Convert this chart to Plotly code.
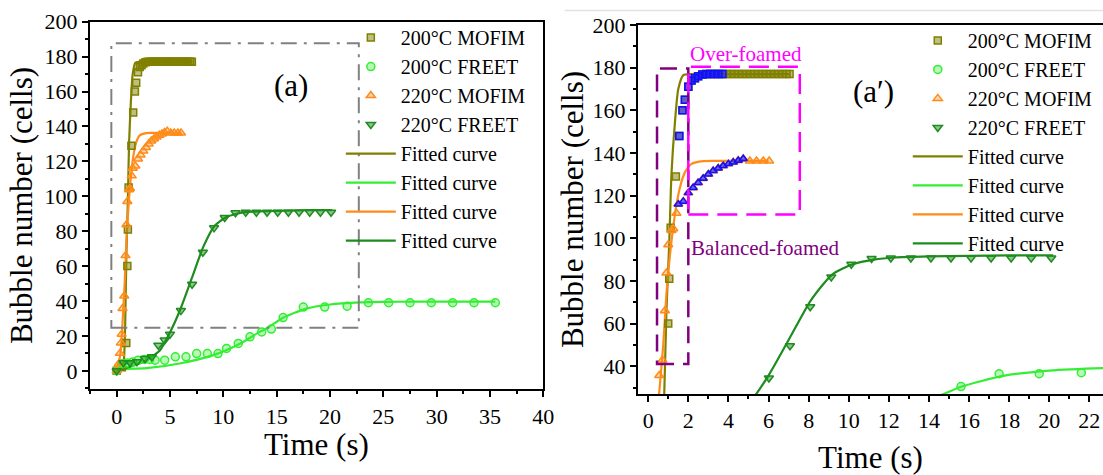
import plotly.graph_objects as go

# ---------------- data ----------------
# 200°C MOFIM (squares)
t_200M = [0, 0.5, 0.9, 1.0, 1.05, 1.12, 1.38, 1.55, 1.71, 1.83, 2.0, 2.16, 2.33, 2.49, 2.7, 2.9,
          3.1, 3.3, 3.5, 3.7, 3.9, 4.1, 4.3, 4.5, 4.7, 4.9, 5.1, 5.3, 5.5, 5.7, 5.9, 6.1, 6.3,
          6.5, 6.7, 6.9, 7.05]
y_200M = [0, 2, 16, 60, 81, 105, 129, 148, 160, 165, 171, 174, 175, 176, 176.8, 177,
          177, 177, 177, 177, 177, 177, 177, 177, 177, 177, 177, 177, 177, 177, 177, 177, 177,
          177, 177, 177, 177]
# 200°C FREET (circles)
t_200F = [0, 0.5, 1, 1.5, 2, 2.6, 3.1, 3.6, 4.5, 5.5, 6.5, 7.5, 8.5, 9.5, 10.3, 11.4, 12.5,
          13.6, 14.5, 15.6, 17.5, 19.5, 21.6, 23.6, 25.5, 27.5, 29.5, 31.5, 33.5, 35.5]
y_200F = [0, 4, 4.5, 5, 6, 6.5, 6.5, 6.1, 6.1, 8, 8, 9.9, 9.9, 9.9, 12.8, 15.7, 19.5,
          22.3, 23.9, 30.5, 36.5, 36.5, 37, 39, 39, 39, 39, 39, 39, 39]
# 220°C MOFIM (up triangles)
t_220M = [0, 0.2, 0.3, 0.4, 0.47, 0.55, 0.71, 0.83, 0.91, 1.0, 1.16, 1.25, 1.41, 1.5, 1.75,
          2.0, 2.24, 2.49, 2.74, 3.0, 3.24, 3.49, 3.74, 4.0, 4.24, 4.49, 4.74, 5.07, 5.4,
          5.74, 6.03]
y_220M = [0, 4, 10, 16, 21, 35.7, 42.9, 66, 83.7, 97, 103.7, 104.5, 111.7, 116, 117.3,
          121.3, 123.7, 126, 128, 130, 131.7, 132.8, 134, 134.9, 135.7, 136.5, 137.3, 136.2,
          136.2, 136.2, 136.2]
# 220°C FREET (down triangles)
t_220F = [0, 0.63, 1.25, 1.9, 2.66, 3.3, 3.9, 4.5, 5.0, 6.02, 7.07, 8.08, 9.13, 10.13, 11.14,
          12.1, 13.1, 14.1, 15.1, 16.1, 17.1, 18.1, 19.1, 20.1]
y_220F = [0, 4.6, 4.6, 5.2, 7, 8, 14.7, 17.6, 21, 34.5, 49.6, 67.9, 81.9, 87.8, 90.5,
          90.8, 90.8, 90.8, 90.8, 90.8, 90.8, 90.8, 90.8, 90.8]

# fitted curves
fit_t_200M = [0, 0.4, 0.6, 0.7, 0.8, 0.91, 1.05, 1.16, 1.33, 1.5, 1.75, 2.1, 2.5, 3, 4, 5, 6, 7.05]
fit_y_200M = [0, 0.3, 2, 8, 27, 66, 98, 130, 154, 170, 176.5, 177, 177, 177, 177, 177, 177, 177]
fit_t_200F = [0, 2.8, 5.9, 9.06, 11.6, 13.4, 14.1, 15.6, 17.7, 20, 22.8, 25, 28, 31, 35.5]
fit_y_200F = [1, 1.5, 4.2, 9, 15.7, 22.3, 24.4, 30.4, 35.5, 38, 39.2, 39.5, 39.6, 39.6, 39.6]
fit_t_220M = [0, 0.2, 0.35, 0.45, 0.55, 0.75, 0.91, 1.08, 1.33, 1.58, 1.83, 2.16, 2.74, 3.5, 4.5, 6.0]
fit_y_220M = [2, 5, 10, 17, 27.7, 50, 74, 91.7, 111, 123.7, 130.9, 134.9, 136.2, 136.3, 136.3, 136.3]
fit_t_220F = [0, 1.25, 2.8, 4.06, 5.0, 6.02, 7.07, 8.12, 9.17, 10.2, 11.26, 12.3, 14, 16, 18, 20.2]
fit_y_220F = [0, 2.3, 6, 11.8, 22, 36, 53.5, 71, 83, 87.8, 90, 91, 91.5, 91.8, 92, 92]

# over-foamed (blue) windows of the MOFIM data in panel (a')
blue_win_200M = (1.5, 3.75)
blue_win_220M = (1.5, 4.8)

# labels
series_names = ["200°C MOFIM", "200°C FREET", "220°C MOFIM", "220°C FREET"]
fit_name = "Fitted curve"

# ---------------- styles ----------------
C_OLIVE = "#808000"
C_LGREEN = "#33EE33"
C_ORANGE = "#FF8C1A"
C_DGREEN = "#1E8C1E"
C_BLUE = "#1010FF"
FONT = "Liberation Serif"

mk = {
    "200M": dict(symbol="square", size=7, color="rgba(128,128,0,0.5)", line=dict(color=C_OLIVE, width=1.5)),
    "200F": dict(symbol="circle", size=8, color="rgba(51,238,51,0.35)", line=dict(color=C_LGREEN, width=1.5)),
    "220M": dict(symbol="triangle-up", size=8, color="rgba(255,140,26,0.35)", line=dict(color=C_ORANGE, width=1.5)),
    "220F": dict(symbol="triangle-down", size=8, color="rgba(30,140,30,0.5)", line=dict(color=C_DGREEN, width=1.5)),
}

fig = go.Figure()

data_sets = [
    ("200M", t_200M, y_200M, series_names[0]),
    ("200F", t_200F, y_200F, series_names[1]),
    ("220M", t_220M, y_220M, series_names[2]),
    ("220F", t_220F, y_220F, series_names[3]),
]
fits = [
    (fit_t_200M, fit_y_200M, C_OLIVE),
    (fit_t_200F, fit_y_200F, C_LGREEN),
    (fit_t_220M, fit_y_220M, C_ORANGE),
    (fit_t_220F, fit_y_220F, C_DGREEN),
]

for panel, (xa, ya, lg) in enumerate([("x", "y", "legend"), ("x2", "y2", "legend2")]):
    for i, (ft, fy, col) in enumerate(fits):
        fig.add_trace(go.Scatter(x=ft, y=fy, mode="lines", name=fit_name,
                                 line=dict(color=col, width=2.2, shape="spline", smoothing=0.6),
                                 xaxis=xa, yaxis=ya, legend=lg, legendrank=10 + i))
    for i, (key, tt, yy, nm) in enumerate(data_sets):
        fig.add_trace(go.Scatter(x=tt, y=yy, mode="markers", name=nm, marker=mk[key],
                                 xaxis=xa, yaxis=ya, legend=lg, legendrank=i))
    if panel == 1:
        for key, tt, yy, win, sym in [("200M", t_200M, y_200M, blue_win_200M, "square"),
                                      ("220M", t_220M, y_220M, blue_win_220M, "triangle-up")]:
            bx = [a for a, b in zip(tt, yy) if win[0] <= a <= win[1]]
            by = [b for a, b in zip(tt, yy) if win[0] <= a <= win[1]]
            fig.add_trace(go.Scatter(x=bx, y=by, mode="markers", showlegend=False,
                                     marker=dict(symbol=sym, size=7, color="rgba(16,16,255,0.55)",
                                                 line=dict(color=C_BLUE, width=1.5)),
                                     xaxis=xa, yaxis=ya))

axis_common = dict(showline=True, linewidth=2, linecolor="black", showgrid=False, zeroline=False,
                   ticks="outside", ticklen=6, tickwidth=2, tickcolor="black", automargin=False,
                   tickfont=dict(family=FONT, size=22, color="black"))

fig.update_layout(
    width=1103, height=475,
    margin=dict(l=0, r=0, t=0, b=0, autoexpand=False),
    paper_bgcolor="white", plot_bgcolor="white",
    font=dict(family=FONT, color="black"),
    xaxis=dict(domain=[0.0816, 0.4926], range=[-2.5, 40], dtick=5, mirror=True,
               minor=dict(dtick=2.5, ticklen=3, tickwidth=2, tickcolor="black", ticks="outside"),
               anchor="y", **axis_common),
    yaxis=dict(domain=[0.1804, 0.9543], range=[-10.6, 200], dtick=20, mirror=True,
               minor=dict(dtick=10, ticklen=3, tickwidth=2, tickcolor="black", ticks="outside"),
               title=dict(text="Bubble number (cells)", font=dict(size=31, family=FONT), standoff=3),
               anchor="x", **axis_common),
    xaxis2=dict(domain=[0.5784, 1.0], range=[-0.51, 22.68], dtick=2, mirror=True,
                minor=dict(dtick=1, ticklen=3, tickwidth=2, tickcolor="black", ticks="outside"),
                title=dict(text="Time (s)", font=dict(size=31, family=FONT), standoff=15),
                anchor="y2", **axis_common),
    yaxis2=dict(domain=[0.1705, 0.9474], range=[27, 200], tick0=40, dtick=20, mirror=False,
                minor=dict(dtick=10, ticklen=3, tickwidth=2, tickcolor="black", ticks="outside"),
                title=dict(text="Bubble number (cells)", font=dict(size=31, family=FONT), standoff=0),
                anchor="x2", **axis_common),
    legend=dict(x=0.309, y=0.962, xanchor="left", yanchor="top", bgcolor="rgba(0,0,0,0)",
                font=dict(family=FONT, size=20), tracegroupgap=0, itemwidth=50,
                traceorder="normal"),
    legend2=dict(x=0.823, y=0.956, xanchor="left", yanchor="top", bgcolor="rgba(0,0,0,0)",
                 font=dict(family=FONT, size=20), tracegroupgap=0, itemwidth=50,
                 traceorder="normal"),
    showlegend=True,
)

# left x-axis title placed as a paper annotation (closer to the tick labels)
fig.add_annotation(x=(0.0816 + 0.4926) / 2, y=0.064, xref="paper", yref="paper", text="Time (s)",
                   showarrow=False, xanchor="center", yanchor="middle",
                   font=dict(family=FONT, size=31, color="black"))

# region boxes
gray_box = dict(x0=-0.5, x1=22.7, y0=24.6, y1=187.6)
balanced_box = dict(x0=0.44, x1=2.0, y0=41.1, y1=179.6)
over_box = dict(x0=2.0, x1=7.56, y0=111.2, y1=180.4)

fig.add_shape(type="rect", xref="x", yref="y", **gray_box,
              line=dict(color="#808080", width=2, dash="16px,7px,3px,7px"))
fig.add_shape(type="rect", xref="x2", yref="y2", **balanced_box,
              line=dict(color="#800080", width=2.5, dash="17px,9px"))
fig.add_shape(type="rect", xref="x2", yref="y2", **over_box,
              line=dict(color="#FF00FF", width=2.5, dash="20px,9px"))
fig.add_shape(type="line", xref="paper", yref="paper", x0=0.512, x1=1.0, y0=0.978, y1=0.978,
              line=dict(color="#E2E2E2", width=1.5))

fig.add_annotation(x=16.3, y=163.7, xref="x", yref="y", text="(a)", showarrow=False,
                   font=dict(family=FONT, size=31, color="black"))
fig.add_annotation(x=11.26, y=169, xref="x2", yref="y2", text="(a′)", showarrow=False,
                   font=dict(family=FONT, size=31, color="black"))
fig.add_annotation(x=4.9, y=186.5, xref="x2", yref="y2", text="Over-foamed", showarrow=False,
                   font=dict(family=FONT, size=21, color="#FF00FF"))
fig.add_annotation(x=2.05, y=95.5, xref="x2", yref="y2", text="Balanced-foamed", showarrow=False,
                   xanchor="left", font=dict(family=FONT, size=21, color="#800080"))

fig.write_html("out.html", config={"displayModeBar": False},
               post_script="document.body.style.margin='0';")
